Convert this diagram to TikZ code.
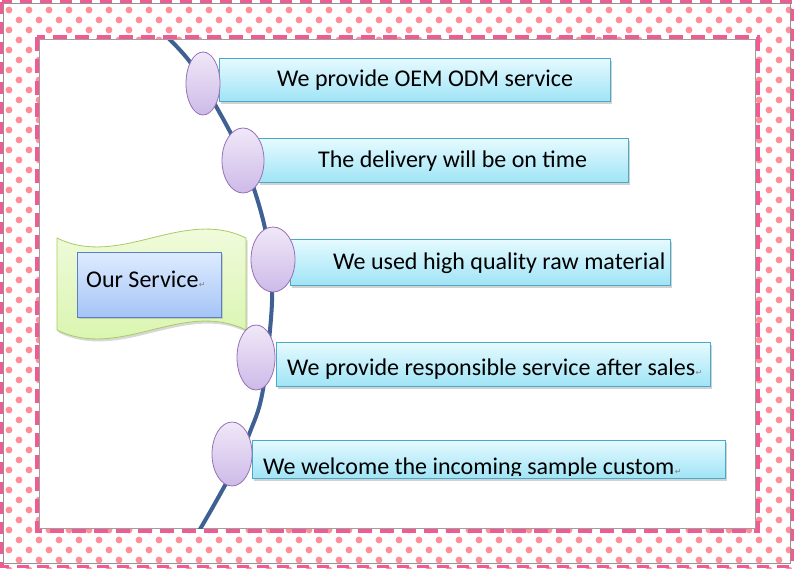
\documentclass[tikz,border=0pt]{standalone}
\usepackage{fontspec}
\setmainfont{Carlito}
\newfontfamily\symfont{DejaVu Sans}
\usetikzlibrary{shapes.geometric,shadows}
\definecolor{dotpink}{RGB}{255,142,152}
\definecolor{dashpink}{RGB}{238,92,145}
\definecolor{curveblue}{RGB}{62,96,146}
\definecolor{boxtop}{RGB}{230,250,255}
\definecolor{boxbot}{RGB}{160,228,246}
\definecolor{boxline}{RGB}{72,170,198}
\definecolor{elltop}{RGB}{240,232,248}
\definecolor{ellbot}{RGB}{205,186,232}
\definecolor{ellline}{RGB}{150,112,182}
\definecolor{svctop}{RGB}{222,236,255}
\definecolor{svcbot}{RGB}{165,196,246}
\definecolor{svcline}{RGB}{88,128,198}
\definecolor{greentop}{RGB}{244,252,228}
\definecolor{greenbot}{RGB}{214,244,168}
\definecolor{greenline}{RGB}{168,204,98}
\tikzset{
  itembox/.style={draw=boxline, line width=0.8pt, top color=boxtop, bottom color=boxbot,
    inner sep=0pt, drop shadow={opacity=0.35, shadow xshift=2pt, shadow yshift=-3pt}},
  bead/.style={ellipse, draw=ellline, line width=0.8pt, top color=elltop, bottom color=ellbot, inner sep=0pt},
  svcbox/.style={draw=svcline, line width=0.8pt, top color=svctop, bottom color=svcbot,
    inner sep=0pt, drop shadow={opacity=0.3, shadow xshift=1.5pt, shadow yshift=-2pt}},
  itemtext/.style={anchor=base west, inner sep=0pt, font=\fontsize{24}{28}\selectfont},
  retmark/.style={anchor=base west, inner sep=0pt, text=gray, font=\symfont\fontsize{8}{9}\selectfont}
}
\begin{document}
\begin{tikzpicture}[x=1pt,y=-1pt]
\useasboundingbox (0,0) rectangle (794,568);
\fill[white] (0,0) rectangle (794,568);
% dotted frame
\foreach \a in {0,...,39} \foreach \b in {0,...,28} {
  \fill[dotpink] (9+20*\a,10+20*\b) circle (3.4pt);
  \fill[dotpink] (19+20*\a,20+20*\b) circle (3.4pt);
}
\draw[dashpink, line width=3.5pt, dash pattern=on 12pt off 8pt] (1.75,1.75) rectangle (792.25,566.25);
\draw[gray!85, line width=0.8pt] (3.8,3.8) rectangle (790,563.8);
\draw[dashpink, line width=4pt, dash pattern=on 14pt off 8pt] (37,37) rectangle (757.5,530.5);
\draw[fill=white, draw=gray!75, line width=0.8pt] (39.5,39.5) rectangle (755.5,528.5);
% curve
\begin{scope}
\clip (40,40) rectangle (755,528);
\draw[curveblue, line width=4pt] plot[smooth, tension=0.6] coordinates
  {(160,30) (190,62) (217,108) (238,148) (255,192) (267,238) (272,285) (270,330) (262,395) (250,432) (233,470) (214,505) (196,536)};
\end{scope}
% wave shape
\path[draw=greenline, line width=0.8pt, top color=greentop, bottom color=greenbot,
  drop shadow={opacity=0.3, shadow xshift=1.5pt, shadow yshift=-2.5pt}]
  (57,238) .. controls (120,269) and (183,207) .. (246,238) -- (246,330)
  .. controls (183,299) and (120,361) .. (57,330) -- cycle;
\node[svcbox, minimum width=144pt, minimum height=65pt] (svc) at (149,284.5) {};
\node[itemtext] (svct) at (86,287) {Our Service};
\node[retmark] (svcr) at (svct.base east) {↵};
% item boxes
\node[itembox, minimum width=391pt, minimum height=43pt] (b1) at (414.5,79.5) {};
\node[itembox, minimum width=370pt, minimum height=44pt] (b2) at (443,160) {};
\node[itembox, minimum width=380pt, minimum height=46pt] (b3) at (480,262) {};
\node[itembox, minimum width=434pt, minimum height=44pt] (b4) at (493,364) {};
\node[itembox, minimum width=473pt, minimum height=38pt] (b5) at (488.5,459) {};
\node[itemtext] (t1) at (277,86.5) {We provide OEM ODM service};
\node[itemtext] (t2) at (318,167.5) {The delivery will be on time};
\node[itemtext] (t3) at (333,269.5) {We used high quality raw material};
\node[itemtext] (t4) at (287,375.5) {We provide responsible service after sales};
\node[retmark] (r4) at (t4.base east) {↵};
\begin{scope}
\clip (250,438) rectangle (727,475.5);
\node[itemtext] (t5) at (263,474) {We welcome the incoming sample custom};
\node[retmark] (r5) at (t5.base east) {↵};
\end{scope}
% beads
\node[bead, minimum width=34pt, minimum height=63pt] (e1) at (203,83.5) {};
\node[bead, minimum width=42pt, minimum height=65pt] (e2) at (243,160.5) {};
\node[bead, minimum width=44pt, minimum height=65pt] (e3) at (273,259.5) {};
\node[bead, minimum width=38pt, minimum height=65pt] (e4) at (256,357.5) {};
\node[bead, minimum width=40pt, minimum height=64pt] (e5) at (232,454) {};
\end{tikzpicture}
\end{document}
